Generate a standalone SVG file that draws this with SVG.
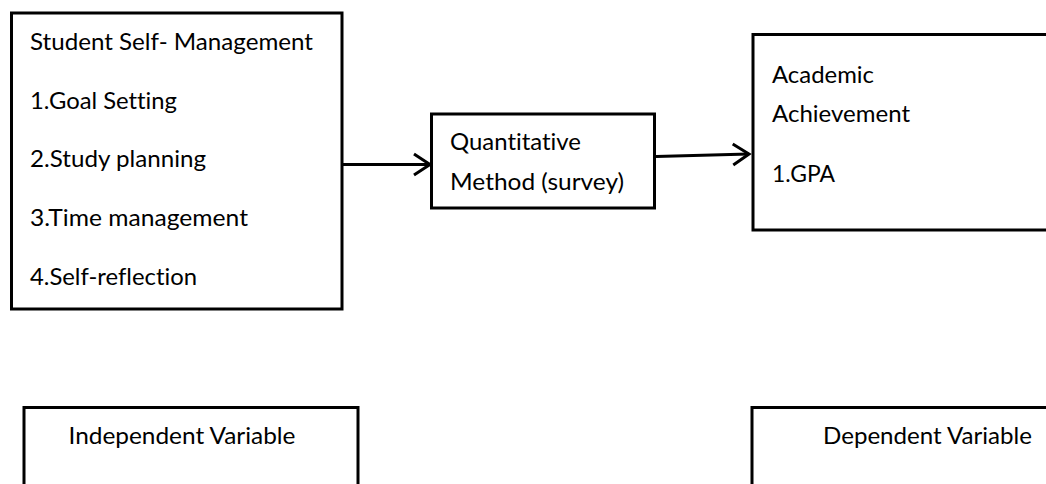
<svg xmlns="http://www.w3.org/2000/svg" width="1046" height="484" viewBox="0 0 1046 484">
<style>
.box{fill:#fff;stroke:#000;stroke-width:3}
.t{font-family:Lato,"Open Sans","Liberation Sans",sans-serif;font-size:23px;fill:#000;font-variant-ligatures:none;font-feature-settings:"liga" 0,"clig" 0}
.c{fill:none;stroke:#000;stroke-width:3}
</style>
<defs>
<marker id="arr" markerUnits="userSpaceOnUse" markerWidth="30" markerHeight="30" viewBox="-20 -15 30 30" refX="0" refY="0" orient="auto" overflow="visible">
<path d="M-16,-10.5 L0,0 L-16,10.5" fill="none" stroke="#000" stroke-width="3"/>
</marker>
</defs>
<rect x="0" y="0" width="1046" height="484" fill="#fff"/>
<g id="connectors">
<path class="c" d="M342,164.5 L430,164.5" marker-end="url(#arr)"/>
<path class="c" d="M656,156.5 L749,154" marker-end="url(#arr)"/>
</g>
<g id="node-self-management">
<rect class="box" x="11.5" y="13" width="330.5" height="296"/>
<text class="t" x="30" y="50" textLength="283" lengthAdjust="spacingAndGlyphs">Student Self- Management</text>
<text class="t" x="30" y="109" textLength="147" lengthAdjust="spacingAndGlyphs">1.Goal Setting</text>
<text class="t" x="30" y="167" textLength="176" lengthAdjust="spacingAndGlyphs">2.Study planning</text>
<text class="t" x="30" y="226" textLength="218" lengthAdjust="spacingAndGlyphs">3.Time management</text>
<text class="t" x="30" y="285" textLength="167" lengthAdjust="spacingAndGlyphs">4.Self-reflection</text>
</g>
<g id="node-method">
<rect class="box" x="431.5" y="114" width="223" height="94"/>
<text class="t" x="450" y="150" textLength="131" lengthAdjust="spacingAndGlyphs">Quantitative</text>
<text class="t" x="450" y="190" textLength="174" lengthAdjust="spacingAndGlyphs">Method (survey)</text>
</g>
<g id="node-achievement">
<rect class="box" x="753" y="34.5" width="320" height="195.5"/>
<text class="t" x="772" y="83" textLength="102" lengthAdjust="spacingAndGlyphs">Academic</text>
<text class="t" x="772" y="122" textLength="138" lengthAdjust="spacingAndGlyphs">Achievement</text>
<text class="t" x="772" y="182" textLength="63" lengthAdjust="spacingAndGlyphs">1.GPA</text>
</g>
<g id="node-independent">
<rect class="box" x="24" y="407.5" width="334" height="100"/>
<text class="t" x="68.5" y="444" textLength="227" lengthAdjust="spacingAndGlyphs">Independent Variable</text>
</g>
<g id="node-dependent">
<rect class="box" x="752" y="407.5" width="320" height="100"/>
<text class="t" x="823" y="444" textLength="209" lengthAdjust="spacingAndGlyphs">Dependent Variable</text>
</g>
</svg>
